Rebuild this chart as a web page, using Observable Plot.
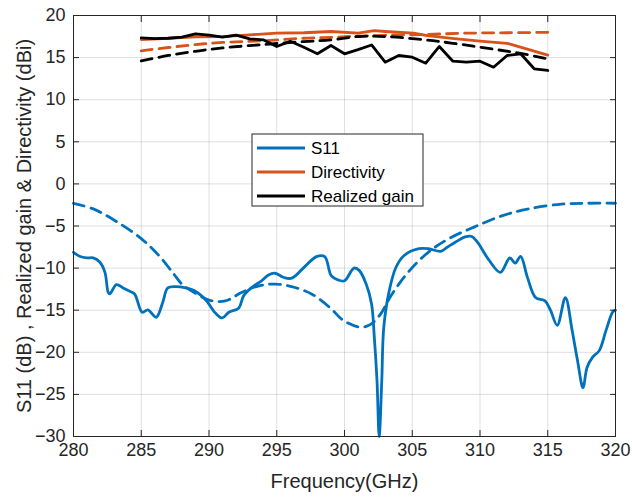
<!DOCTYPE html>
<html><head><meta charset="utf-8">
<script src="https://cdn.jsdelivr.net/npm/d3@7"></script>
<script src="https://cdn.jsdelivr.net/npm/@observablehq/plot@0.6"></script>
<style>body{margin:0;background:#fff;} #chart{position:relative;width:632px;height:502px;}</style>
</head><body><div id="chart"></div>
<script>
const xTicks = [280,285,290,295,300,305,310,315,320];
const yTicks = [-30,-25,-20,-15,-10,-5,0,5,10,15,20];

// Measured S11 (solid blue)
const s11F = [280,280.49,280.98,281.46,281.95,282.32,282.56,282.68,283.17,283.66,284.15,284.51,285.07,285.49,286.1,286.59,286.95,287.56,288.29,288.9,289.76,290.49,290.98,291.46,292.2,292.56,293.17,293.9,294.39,294.88,295.49,296.1,297.07,297.93,298.54,299.02,299.51,300,300.7,301.1,301.6,302.0,302.2,302.4,302.56,302.75,302.9,303.3,303.8,304.4,305.5,306.2,307.1,307.6,308.2,308.9,309.4,309.8,310.6,311.5,312.2,312.6,313.0,313.5,314.1,314.8,315.2,315.7,316.3,316.8,317.2,317.6,317.9,318.3,318.8,319.3,319.8,320];
const s11V = [-8.12,-8.63,-8.79,-8.79,-9.31,-10.5,-12.87,-13.07,-11.96,-12.36,-12.75,-13.07,-15.25,-14.97,-15.84,-14.06,-12.36,-12.2,-12.36,-12.67,-13.78,-15.37,-15.92,-15.25,-14.73,-13.27,-12.28,-11.49,-10.81,-10.61,-11.09,-11.2,-9.82,-8.63,-8.63,-10.89,-11.4,-11.5,-10.0,-10.3,-11.9,-14.3,-18.2,-23.4,-30,-23.4,-17.0,-12.7,-9.9,-8.5,-7.7,-7.7,-8.0,-7.5,-6.9,-6.3,-6.25,-6.9,-8.9,-10.5,-8.8,-9.4,-8.6,-11.1,-13.5,-13.9,-15.0,-16.8,-13.5,-17.4,-21.0,-24.2,-21.8,-20.6,-19.8,-17.4,-15.2,-15.0];

// Simulated S11 (dashed blue)
const simS11F = [280,281.5,283.1,285,286.3,287.4,288,288.7,290,291.2,292.4,293.7,294.9,296.1,297.6,299,299.9,301.1,301.8,302.6,303.5,304.8,306.2,307.7,309.6,311.6,313.5,316,318,320];
const simS11V = [-2.3,-3.0,-4.4,-6.5,-8.5,-10.7,-11.9,-12.7,-13.8,-13.9,-12.9,-12.1,-11.9,-12.2,-13.1,-14.8,-16.2,-17.0,-16.8,-15.6,-13.1,-10.3,-8.1,-6.5,-5.1,-3.8,-3.0,-2.4,-2.3,-2.3];

// Measured directivity (solid orange)
const dirF = [285,287,289,291,293,295,297,299,301,302.2,303,305.1,306.1,308.1,310,312,315];
const dirV = [17.15,17.3,17.45,17.5,17.7,17.9,17.95,18.1,17.9,18.2,18.1,17.9,17.6,17.25,16.95,16.7,15.3];

// Simulated directivity (dashed orange)
const simDirF = [285,287,289,291,294,297,299,301,303,306,309,312,315];
const simDirV = [15.8,16.2,16.55,16.8,17.0,17.3,17.4,17.55,17.65,17.75,17.9,17.95,18.0];

// Measured realized gain (solid black)
const gainF = [285,286,287,288,289,290,291,292,293,294,295,296,297,298,299,300,301,302,303,304,305,306,307,308,309,310,311,312,313,314,315];
const gainV = [17.35,17.25,17.3,17.43,17.83,17.66,17.43,17.66,17.23,17.11,16.32,16.95,16.24,15.45,16.44,15.45,15.95,16.5,14.46,15.25,15.05,14.34,16.32,14.57,14.46,14.57,13.86,15.25,15.45,13.67,13.47];

// Simulated realized gain (dashed black)
const simGainF = [285,287,289,291,294,297,299,301,303,306,308,311,313,315];
const simGainV = [14.6,15.25,15.75,16.15,16.55,16.9,17.1,17.5,17.5,17.1,16.7,16.0,15.5,14.85];

const zip = (F, V) => F.map((f, i) => ({f, v: V[i]}));
const BLUE = "#0072BD", ORANGE = "#D95319", BLACK = "#000000";
const DASH = "11,7";
const LW = 2.8;

const plot = Plot.plot({
  width: 632, height: 502,
  marginLeft: 73, marginRight: 17, marginTop: 15, marginBottom: 66,
  style: {fontFamily: "'Liberation Sans', Arial, sans-serif", background: "#fff", color: "#262626"},
  x: {domain: [280, 320]},
  y: {domain: [-30, 20]},
  marks: [
    Plot.gridX(xTicks, {stroke: "#262626", strokeOpacity: 0.15}),
    Plot.gridY(yTicks, {stroke: "#262626", strokeOpacity: 0.15}),
    Plot.line(zip(simS11F, simS11V), {x: "f", y: "v", stroke: BLUE, strokeWidth: LW, strokeDasharray: DASH, curve: "catmull-rom"}),
    Plot.line(zip(s11F, s11V), {x: "f", y: "v", stroke: BLUE, strokeWidth: LW, curve: "catmull-rom"}),
    Plot.line(zip(simDirF, simDirV), {x: "f", y: "v", stroke: ORANGE, strokeWidth: LW, strokeDasharray: DASH, curve: "catmull-rom"}),
    Plot.line(zip(dirF, dirV), {x: "f", y: "v", stroke: ORANGE, strokeWidth: LW}),
    Plot.line(zip(simGainF, simGainV), {x: "f", y: "v", stroke: BLACK, strokeWidth: LW, strokeDasharray: DASH, curve: "catmull-rom"}),
    Plot.line(zip(gainF, gainV), {x: "f", y: "v", stroke: BLACK, strokeWidth: LW}),
    Plot.frame({stroke: "#262626", strokeWidth: 1}),
    Plot.axisX(xTicks, {anchor: "bottom", tickSize: 0, tickPadding: 7, fontSize: 18, label: null, fill: "#262626"}),
    Plot.axisY(yTicks, {anchor: "left", tickSize: 0, tickPadding: 8, fontSize: 18, label: null, fill: "#262626"}),
    Plot.axisX(xTicks, {anchor: "bottom", tickSize: -6, text: null, label: null, stroke: "#262626"}),
    Plot.axisX(xTicks, {anchor: "top", tickSize: -6, text: null, label: null, stroke: "#262626"}),
    Plot.axisY(yTicks, {anchor: "left", tickSize: -6, text: null, label: null, stroke: "#262626"}),
    Plot.axisY(yTicks, {anchor: "right", tickSize: -6, text: null, label: null, stroke: "#262626"}),
    Plot.text(["Frequency(GHz)"], {frameAnchor: "bottom", dy: 51, fontSize: 20, fill: "#262626", textAnchor: "middle"}),
    Plot.text(["S11 (dB) , Realized gain & Directivity (dBi)"], {frameAnchor: "left", dx: -49, dy: 0, rotate: -90, fontSize: 20, fill: "#262626", textAnchor: "middle"})
  ]
});
document.getElementById("chart").appendChild(plot);

// Legend
const legendItems = [
  {label: "S11", color: BLUE},
  {label: "Directivity", color: ORANGE},
  {label: "Realized gain", color: BLACK}
];
const svg = d3.select(plot);
const lg = svg.append("g").attr("font-family", "'Liberation Sans', Arial, sans-serif").attr("text-anchor", "start");
lg.append("rect").attr("x", 252).attr("y", 134).attr("width", 171).attr("height", 72)
  .attr("fill", "#fff").attr("stroke", "#262626").attr("stroke-width", 1);
legendItems.forEach((d, i) => {
  const y = 148 + i * 24;
  lg.append("line").attr("x1", 257).attr("x2", 305).attr("y1", y).attr("y2", y)
    .attr("stroke", d.color).attr("stroke-width", LW);
  lg.append("text").attr("x", 311).attr("y", y).attr("dy", "0.35em")
    .attr("text-anchor", "start")
    .attr("font-size", 17).attr("fill", "#000").text(d.label);
});
</script>
</body></html>
